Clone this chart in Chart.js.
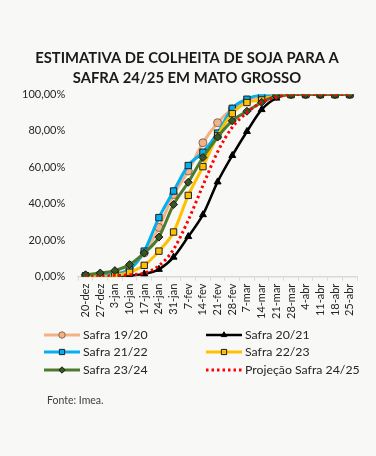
<!DOCTYPE html>
<html>
<head>
<meta charset="utf-8">
<script src="https://cdn.jsdelivr.net/npm/chart.js"></script>
<style>
  body { margin: 0; background: #f8f8f6; font-family: Lato, "Open Sans", sans-serif; }
  #wrap { position: relative; width: 376px; height: 456px; }
  #grafico { position: absolute; left: 0; top: 0; }
  .leg { position: absolute; font-size: 12.3px; color: #262626; height: 16px; line-height: 16px; white-space: nowrap; }
  .leg canvas { vertical-align: middle; margin-right: 3px; position: relative; top: -1px; }
  #fonte { position: absolute; left: 47px; top: 394px; font-size: 10.5px; color: #404040; }
</style>
</head>
<body>
<div id="wrap">
  <canvas id="grafico" width="376" height="330"></canvas>
  <div id="legenda"></div>
  <div id="fonte">Fonte: Imea.</div>
</div>
<script>
// semanas de colheita
const semanas = ['20-dez', '27-dez', '3-jan', '10-jan', '17-jan', '24-jan', '31-jan', '7-fev', '14-fev', '21-fev',
  '28-fev', '7-mar', '14-mar', '21-mar', '28-mar', '4-abr', '11-abr', '18-abr', '25-abr'];

// % colhido por safra
const safra1920 = [0.5, 1, 2, 4, 13, 27, 45, 58, 73.5, 84.5, 92, 96.5, 99, 100, 100, 100, 100, 100, 100];
const safra2021 = [0, 0, 0, 0.5, 1.5, 4, 10.7, 22, 34, 52, 66.5, 79.7, 91.7, 98, 100, 100, 100, 100, 100];
const safra2122 = [0.5, 1, 1.5, 4, 14, 32.4, 47, 61, 68.3, 78.8, 92.4, 97.4, 99.8, 100, 100, 100, 100, 100, 100];
const safra2223 = [0, 0, 0.5, 2.4, 6.2, 14, 24.5, 44.6, 60.4, 77.3, 89.5, 95.6, 97, 99.5, 100, 100, 100, 100, 100];
const safra2324 = [1, 2, 3.3, 6.6, 13, 21.7, 39.6, 51.8, 65.4, 76.6, 85.5, 90.8, 95.7, 99, 100, 100, 100, 100, 100];
const proj2425 = [0, 0, 0.5, 1, 2, 6, 15, 31, 50, 68.5, 82, 90, 95.7, 98.5, 100, 100, 100, 100, 100];

const yTicks = [0, 20, 40, 60, 80, 100];

const series = [
  { label: 'Safra 19/20', data: safra1920, cor: '#f4b183', borda: '#7f6a5a', ponto: 'circle', raio: 4, larg: 3, order: 5 },
  { label: 'Safra 20/21', data: safra2021, cor: '#000000', borda: '#000000', ponto: 'triangle', raio: 4, larg: 2.5, order: 4 },
  { label: 'Safra 21/22', data: safra2122, cor: '#00b0f0', borda: '#1f1f1f', ponto: 'rect', raio: 4.5, larg: 3, order: 3 },
  { label: 'Safra 22/23', data: safra2223, cor: '#ffc000', borda: '#1f1f1f', ponto: 'rect', raio: 4.5, larg: 3, order: 2 },
  { label: 'Safra 23/24', data: safra2324, cor: '#4e7a2e', borda: '#1a1a1a', fundo: '#375623', ponto: 'rectRot', raio: 4, larg: 3, order: 1 },
  { label: 'Projeção Safra 24/25', data: proj2425, cor: '#ff0000', ponto: false, larg: 3, dash: [2.5, 3], order: 0 }
];

const datasets = series.map(s => ({
  label: s.label,
  data: s.data,
  borderColor: s.cor,
  backgroundColor: s.fundo || s.cor,
  borderWidth: s.larg,
  borderDash: s.dash || [],
  pointStyle: s.ponto,
  pointRadius: s.ponto ? s.raio : 0,
  pointBackgroundColor: s.fundo || s.cor,
  pointBorderColor: s.borda,
  pointBorderWidth: 1,
  cubicInterpolationMode: 'monotone',
  order: s.order
}));

new Chart(document.getElementById('grafico'), {
  type: 'line',
  data: { labels: semanas, datasets: datasets },
  options: {
    responsive: false,
    animation: false,
    devicePixelRatio: 1,
    layout: { padding: { left: 17, right: 19, bottom: 8, top: 0 } },
    plugins: {
      legend: { display: false },
      tooltip: { enabled: false },
      title: {
        display: true,
        text: ['ESTIMATIVA DE COLHEITA DE SOJA PARA A', 'SAFRA 24/25 EM MATO GROSSO'],
        color: '#1a1a1a',
        font: { family: 'Lato', size: 14.8, weight: 'bold', lineHeight: 1.3 },
        padding: { top: 49, bottom: 7 }
      }
    },
    scales: {
      x: {
        offset: true,
        grid: { offset: true, drawOnChartArea: false, tickLength: 4, color: '#d9d9d9' },
        border: { color: '#d9d9d9', width: 1.5 },
        ticks: { minRotation: 90, maxRotation: 90, autoSkip: false, color: '#262626', padding: 3, font: { family: 'Lato', size: 11 } }
      },
      y: {
        min: 0,
        max: 100,
        afterBuildTicks: ax => { ax.ticks = yTicks.map(v => ({ value: v })); },
        grid: { display: false },
        border: { display: false },
        ticks: {
          color: '#262626',
          padding: 5,
          font: { family: 'Lato', size: 11 },
          callback: v => v.toFixed(2).replace('.', ',') + '%'
        }
      }
    }
  }
});

// legenda em duas colunas
const legPos = [[44, 327], [206, 327], [44, 344], [206, 344], [44, 362], [206, 362]];
const legenda = document.getElementById('legenda');
series.forEach((s, i) => {
  const item = document.createElement('div');
  item.className = 'leg';
  item.style.left = legPos[i][0] + 'px';
  item.style.top = legPos[i][1] + 'px';
  const c = document.createElement('canvas');
  c.width = 36; c.height = 12;
  const ctx = c.getContext('2d');
  ctx.strokeStyle = s.cor;
  ctx.lineWidth = s.larg;
  ctx.setLineDash(s.dash || []);
  ctx.beginPath(); ctx.moveTo(0, 6); ctx.lineTo(36, 6); ctx.stroke();
  ctx.setLineDash([]);
  if (s.ponto) {
    ctx.fillStyle = s.fundo || s.cor;
    ctx.strokeStyle = s.borda;
    ctx.lineWidth = 1;
    Chart.helpers.drawPoint(ctx, { pointStyle: s.ponto, radius: s.raio - 0.8, borderWidth: 1, rotation: 0 }, 18, 6);
  }
  item.appendChild(c);
  item.appendChild(document.createTextNode(s.label));
  legenda.appendChild(item);
});
</script>
</body>
</html>
